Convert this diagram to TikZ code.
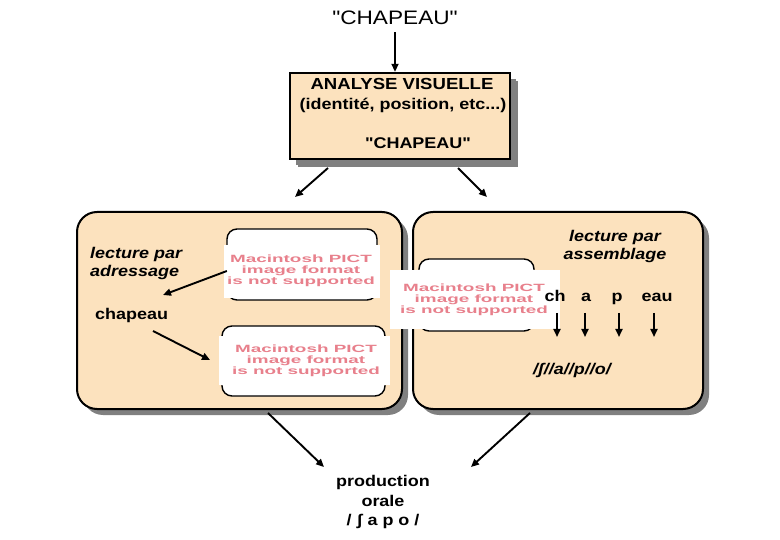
\documentclass[tikz,border=0pt]{standalone}
\usepackage{fontspec}
\setmainfont[FakeStretch=1.16, Ligatures=TeXOff]{Liberation Sans}
\usepackage{graphicx}
\usepackage{tikz}
\usetikzlibrary{arrows.meta, shadows}
\definecolor{boxpeach}{HTML}{FCE2BE}
\definecolor{pictpink}{HTML}{E8808C}
\definecolor{shadowgray}{HTML}{808080}

\tikzset{
  arr/.style={-{Triangle[length=8pt,width=7pt]}, line width=1.9pt},
  panel/.style={draw, line width=2pt, fill=boxpeach, inner sep=0pt,
    drop shadow={shadow xshift=6pt, shadow yshift=-6pt, fill=shadowgray, opacity=1}},
  txt/.style={font=\fontsize{15.5}{18}\selectfont\bfseries, inner sep=1pt},
  itxt/.style={txt, font=\fontsize{15.5}{18}\selectfont\bfseries\itshape, align=left},
  pictframe/.style={draw, fill=white, line width=1.4pt, rounded corners=10pt},
  picttxt/.style={text=pictpink, inner sep=0pt, font=\fontsize{10.5}{11}\selectfont\bfseries}
}
\newcommand{\pictnote}{\scalebox{1.55}[1]{\begin{tabular}{@{}c@{}}Macintosh PICT\\image format\\is not supported\end{tabular}}}

\begin{document}
\begin{tikzpicture}[x=1pt, y=-1pt]
    \useasboundingbox (0,0) rectangle (780,540);

    \node[font=\fontsize{19.5}{22}\selectfont, inner sep=1pt] (title) at (395,18) {"CHAPEAU"};
    \node[panel, minimum width=220pt, minimum height=86pt, line width=2.4pt,
      drop shadow={shadow xshift=8pt, shadow yshift=-8pt, fill=shadowgray, opacity=1}] (analyse) at (400,116) {};
    \node[txt, font=\fontsize{16}{18}\selectfont\bfseries] (av) at (402,84) {ANALYSE VISUELLE};
    \node[txt] (ident) at (403,105) {(identité, position, etc...)};
    \node[txt] (word) at (418,143) {"CHAPEAU"};
    \draw[arr] (title.south) ++(0,6) -- (title.south |- analyse.north);

    \node[panel, rounded corners=20pt, minimum width=325pt, minimum height=197pt] (left) at (239.5,310.5) {};
    \node[panel, rounded corners=20pt, minimum width=290pt, minimum height=197pt] (right) at (558,310.5) {};
    \coordinate (top-l) at (328,168);
    \coordinate (top-r) at (458,168);
    \coordinate (left-in) at (295,197);
    \coordinate (right-in) at (487,197);
    \draw[arr] (top-l) -- (left-in);
    \draw[arr] (top-r) -- (right-in);

    % voie d'adressage
    \draw[pictframe] (227,229) rectangle (377,300);
    \fill[white] (224,245) rectangle (380,298);
    \node[picttxt] (pict1) at (301,271) {\pictnote};
    \draw[pictframe] (222,326) rectangle (385,396);
    \fill[white] (219,336) rectangle (390,385);
    \node[picttxt] (pict2) at (306,361) {\pictnote};
    \node[itxt, anchor=west] (adr) at (89,263) {lecture par\\adressage};
    \node[txt, anchor=west] (chapeau) at (94,315) {chapeau};
    \coordinate (adr-in) at (163,295);
    \coordinate (chap-out) at (153,331);
    \coordinate (pict2-in) at (210,360);
    \draw[arr] (pict1.west) -- (adr-in);
    \draw[arr] (chap-out) -- (pict2-in);

    % voie d'assemblage
    \draw[pictframe] (419,259) rectangle (534,331);
    \fill[white] (390,270) rectangle (560,329);
    \node[picttxt] (pict3) at (474,300) {\pictnote};
    \node[itxt, align=center] (ass) at (615,246) {lecture par\\assemblage};
    \node[txt, anchor=base] (ch) at (555,302) {ch};
    \node[txt, anchor=base] (a) at (586,302) {a};
    \node[txt, anchor=base] (p) at (617,302) {p};
    \node[txt, anchor=base] (eau) at (657,302) {eau};
    \node[txt, font=\fontsize{15.5}{18}\selectfont\bfseries\itshape] (phon) at (572,370) {/ʃ//a//p//o/};
    \foreach \l/\x in {ch/557, a/585, p/619, eau/654}
        \draw[arr] (\x,313) -- (\x,337);

    % sortie
    \node[txt, align=center, font=\fontsize{15.5}{19.5}\selectfont\bfseries] (prod) at (383,502) {production\\orale\\/ ʃ a p o /};
    \coordinate (left-out) at (268,413);
    \coordinate (right-out) at (530,413);
    \coordinate (prod-l) at (324,467);
    \coordinate (prod-r) at (471,467);
    \draw[arr] (left-out) -- (prod-l);
    \draw[arr] (right-out) -- (prod-r);
\end{tikzpicture}
\end{document}
